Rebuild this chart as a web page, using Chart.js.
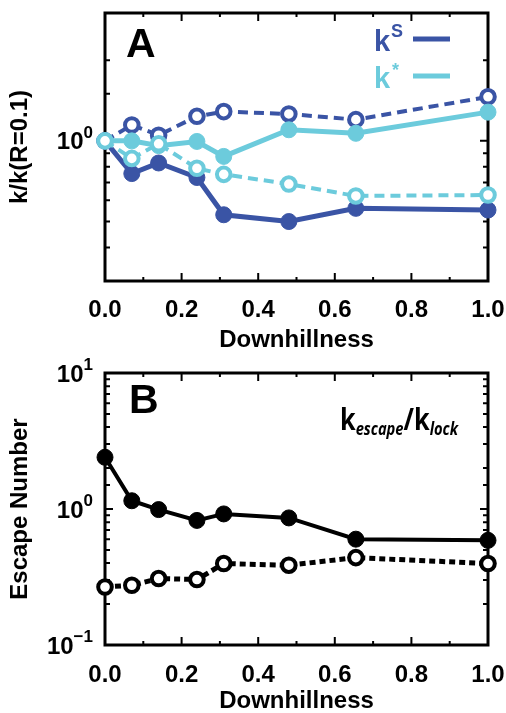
<!DOCTYPE html>
<html>
<head>
<meta charset="utf-8">
<script src="https://cdn.jsdelivr.net/npm/chart.js@4.4.1/dist/chart.umd.min.js"></script>
<style>
  body { margin: 0; background: #fff; }
  canvas { display: block; }
</style>
</head>
<body>
<canvas id="chartA" width="506" height="350"></canvas>
<canvas id="chartB" width="506" height="363"></canvas>
<script>
// values
const downhill = [0, 0.07, 0.14, 0.24, 0.31, 0.48, 0.655, 1.0];

// panel A, k/k(R=0.1)
const kS_filled    = [1.0, 0.755, 0.827, 0.73, 0.53, 0.50, 0.56, 0.552];
const kS_open      = [1.0, 1.146, 1.05, 1.235, 1.286, 1.26, 1.20, 1.46];
const kStar_filled = [1.0, 1.0, 0.96, 0.995, 0.875, 1.10, 1.067, 1.28];
const kStar_open   = [1.0, 0.86, 0.975, 0.79, 0.75, 0.69, 0.623, 0.628];

// panel B, escape number
const esc_filled = [2.40, 1.15, 0.99, 0.824, 0.92, 0.86, 0.60, 0.588];
const esc_open   = [0.267, 0.275, 0.308, 0.303, 0.397, 0.386, 0.439, 0.397];

const xTicks = [0, 0.2, 0.4, 0.6, 0.8, 1.0];

const DARK = '#3a54a5';
const CYAN = '#6ccbdc';
const FONT = '"Liberation Sans", Arial, sans-serif';

Chart.defaults.color = '#000';
Chart.defaults.font.family = FONT;

function pts(arr) {
  return downhill.map((x, i) => ({ x: x, y: arr[i] }));
}

function line(arr, color, filled, dash, width) {
  return {
    data: pts(arr),
    borderColor: color,
    borderWidth: width,
    borderDash: dash,
    pointRadius: filled ? 8 : 6.8,
    pointBorderWidth: filled ? 1 : 4,
    pointBorderColor: color,
    pointBackgroundColor: filled ? color : '#fff',
    clip: false
  };
}

// box with inward ticks + power-of-ten labels
const framePlugin = {
  id: 'frame',
  beforeDatasetsDraw(chart) {
    const ctx = chart.ctx, a = chart.chartArea;
    const xs = chart.scales.x, ys = chart.scales.y;
    ctx.save();
    ctx.strokeStyle = '#000';
    ctx.lineWidth = 2;
    xs.ticks.forEach(t => {
      if (t.value <= xs.min || t.value >= xs.max) return;
      const px = xs.getPixelForValue(t.value);
      const major = Math.round(t.value * 10) % 2 === 0;
      const len = major ? 8 : 4;
      ctx.beginPath();
      ctx.moveTo(px, a.bottom); ctx.lineTo(px, a.bottom - len);
      ctx.moveTo(px, a.top); ctx.lineTo(px, a.top + len);
      ctx.stroke();
    });
    ys.ticks.forEach(t => {
      if (t.value <= ys.min * 1.0001 || t.value >= ys.max * 0.9999) return;
      const py = ys.getPixelForValue(t.value);
      const lg = Math.log10(t.value);
      const major = Math.abs(lg - Math.round(lg)) < 1e-6;
      const len = major ? 8 : 5;
      ctx.beginPath();
      ctx.moveTo(a.left, py); ctx.lineTo(a.left + len, py);
      ctx.moveTo(a.right, py); ctx.lineTo(a.right - len, py);
      ctx.stroke();
    });
    ctx.lineWidth = 3;
    ctx.strokeRect(a.left, a.top, a.right - a.left, a.bottom - a.top);
    ctx.restore();
  },
  afterDraw(chart) {
    const ctx = chart.ctx, a = chart.chartArea, ys = chart.scales.y;
    ctx.save();
    ctx.fillStyle = '#000';
    ys.ticks.forEach(t => {
      const lg = Math.log10(t.value);
      if (Math.abs(lg - Math.round(lg)) > 1e-6) return;
      const e = Math.round(lg);
      const sup = e < 0 ? '\u2212' + (-e) : String(e);
      const py = ys.getPixelForValue(t.value);
      ctx.font = 'bold 17px ' + FONT;
      const w2 = ctx.measureText(sup).width;
      ctx.font = 'bold 24px ' + FONT;
      const w1 = ctx.measureText('10').width;
      const xr = a.left - 12;
      ctx.textBaseline = 'middle';
      ctx.textAlign = 'left';
      ctx.fillText('10', xr - w2 - w1, py + 2);
      ctx.font = 'bold 17px ' + FONT;
      ctx.fillText(sup, xr - w2, py - 8);
    });
    ctx.restore();
  }
};

// tick padding also widens the side padding in Chart.js, so push labels down with lineHeight
function xScale(h, lh, titleShift) {
  return {
    type: 'linear', min: 0, max: 1,
    grid: { display: false, drawTicks: false },
    border: { display: false },
    ticks: {
      stepSize: 0.1, autoSkip: false, maxRotation: 0, padding: 0,
      font: { size: 24, weight: 'bold', lineHeight: lh },
      callback: v => xTicks.some(t => Math.abs(t - v) < 1e-6) ? v.toFixed(1) : ''
    },
    title: { display: true, text: 'Downhillness', font: { size: 24, weight: 'bold' },
             padding: { top: 0, bottom: titleShift } },
    afterFit: s => { s.height = h; }
  };
}

function yScale(min, max, label) {
  return {
    type: 'logarithmic', min: min, max: max,
    grid: { display: false, drawTicks: false },
    border: { display: false },
    ticks: { display: false, autoSkip: false },
    title: { display: true, text: label, font: { size: 24, weight: 'bold' }, padding: { top: 6, bottom: 0 } },
    afterFit: s => { s.width = 105; }
  };
}

const annotA = {
  id: 'annotA',
  afterDraw(chart) {
    const ctx = chart.ctx;
    ctx.save();
    ctx.textBaseline = 'alphabetic';
    ctx.textAlign = 'left';
    ctx.fillStyle = '#000';
    ctx.font = 'bold 41px ' + FONT;
    ctx.fillText('A', 126, 57);
    ctx.fillStyle = DARK;
    ctx.font = 'bold 29px ' + FONT;
    ctx.fillText('k', 374, 51);
    ctx.font = 'bold 18px ' + FONT;
    ctx.fillText('S', 391, 37);
    ctx.fillStyle = CYAN;
    ctx.font = 'bold 29px ' + FONT;
    ctx.fillText('k', 374, 88);
    ctx.font = 'bold 18px ' + FONT;
    ctx.fillText('*', 392, 76);
    ctx.lineWidth = 5;
    ctx.strokeStyle = DARK;
    ctx.beginPath(); ctx.moveTo(413, 39); ctx.lineTo(450, 39); ctx.stroke();
    ctx.strokeStyle = CYAN;
    ctx.beginPath(); ctx.moveTo(413, 76); ctx.lineTo(450, 76); ctx.stroke();
    ctx.restore();
  }
};

const annotB = {
  id: 'annotB',
  afterDraw(chart) {
    const ctx = chart.ctx;
    ctx.save();
    ctx.textBaseline = 'alphabetic';
    ctx.textAlign = 'left';
    ctx.fillStyle = '#000';
    ctx.font = 'bold 41px ' + FONT;
    ctx.fillText('B', 129, 63);
    // k_escape / k_lock
    const big = 'bold 31px "Open Sans", sans-serif';
    const sub = 'italic bold 18px "Open Sans", sans-serif';
    const parts = [['k', big, 0], ['escape', sub, 5], ['/k', big, 0], ['lock', sub, 5]];
    let total = 0;
    parts.forEach(p => { ctx.font = p[1]; total += ctx.measureText(p[0]).width; });
    ctx.translate(340, 0);
    ctx.scale(118 / total, 1);
    let x = 0;
    parts.forEach(p => {
      ctx.font = p[1];
      ctx.fillText(p[0], x, 80 + p[2]);
      x += ctx.measureText(p[0]).width;
    });
    ctx.restore();
  }
};

new Chart(document.getElementById('chartA'), {
  type: 'line',
  data: {
    datasets: [
      line(kStar_open, CYAN, false, [10, 6], 4),
      line(kStar_filled, CYAN, true, [], 5),
      line(kS_open, DARK, false, [10, 6], 4),
      line(kS_filled, DARK, true, [], 5)
    ]
  },
  options: {
    responsive: false,
    animation: false,
    devicePixelRatio: 1,
    layout: { padding: { top: 13, right: 18, left: 0, bottom: 0 } },
    plugins: { legend: { display: false }, tooltip: { enabled: false } },
    scales: { x: xScale(69, 2.45, -5), y: yScale(0.3, 3, 'k/k(R=0.1)') }
  },
  plugins: [framePlugin, annotA]
});

new Chart(document.getElementById('chartB'), {
  type: 'line',
  data: {
    datasets: [
      line(esc_open, '#000', false, [6, 4], 5),
      line(esc_filled, '#000', true, [], 4)
    ]
  },
  options: {
    responsive: false,
    animation: false,
    devicePixelRatio: 1,
    layout: { padding: { top: 23, right: 18, left: 0, bottom: 0 } },
    plugins: { legend: { display: false }, tooltip: { enabled: false } },
    scales: { x: xScale(68, 2.5, -3), y: yScale(0.1, 10, 'Escape Number') }
  },
  plugins: [framePlugin, annotB]
});
</script>
</body>
</html>
